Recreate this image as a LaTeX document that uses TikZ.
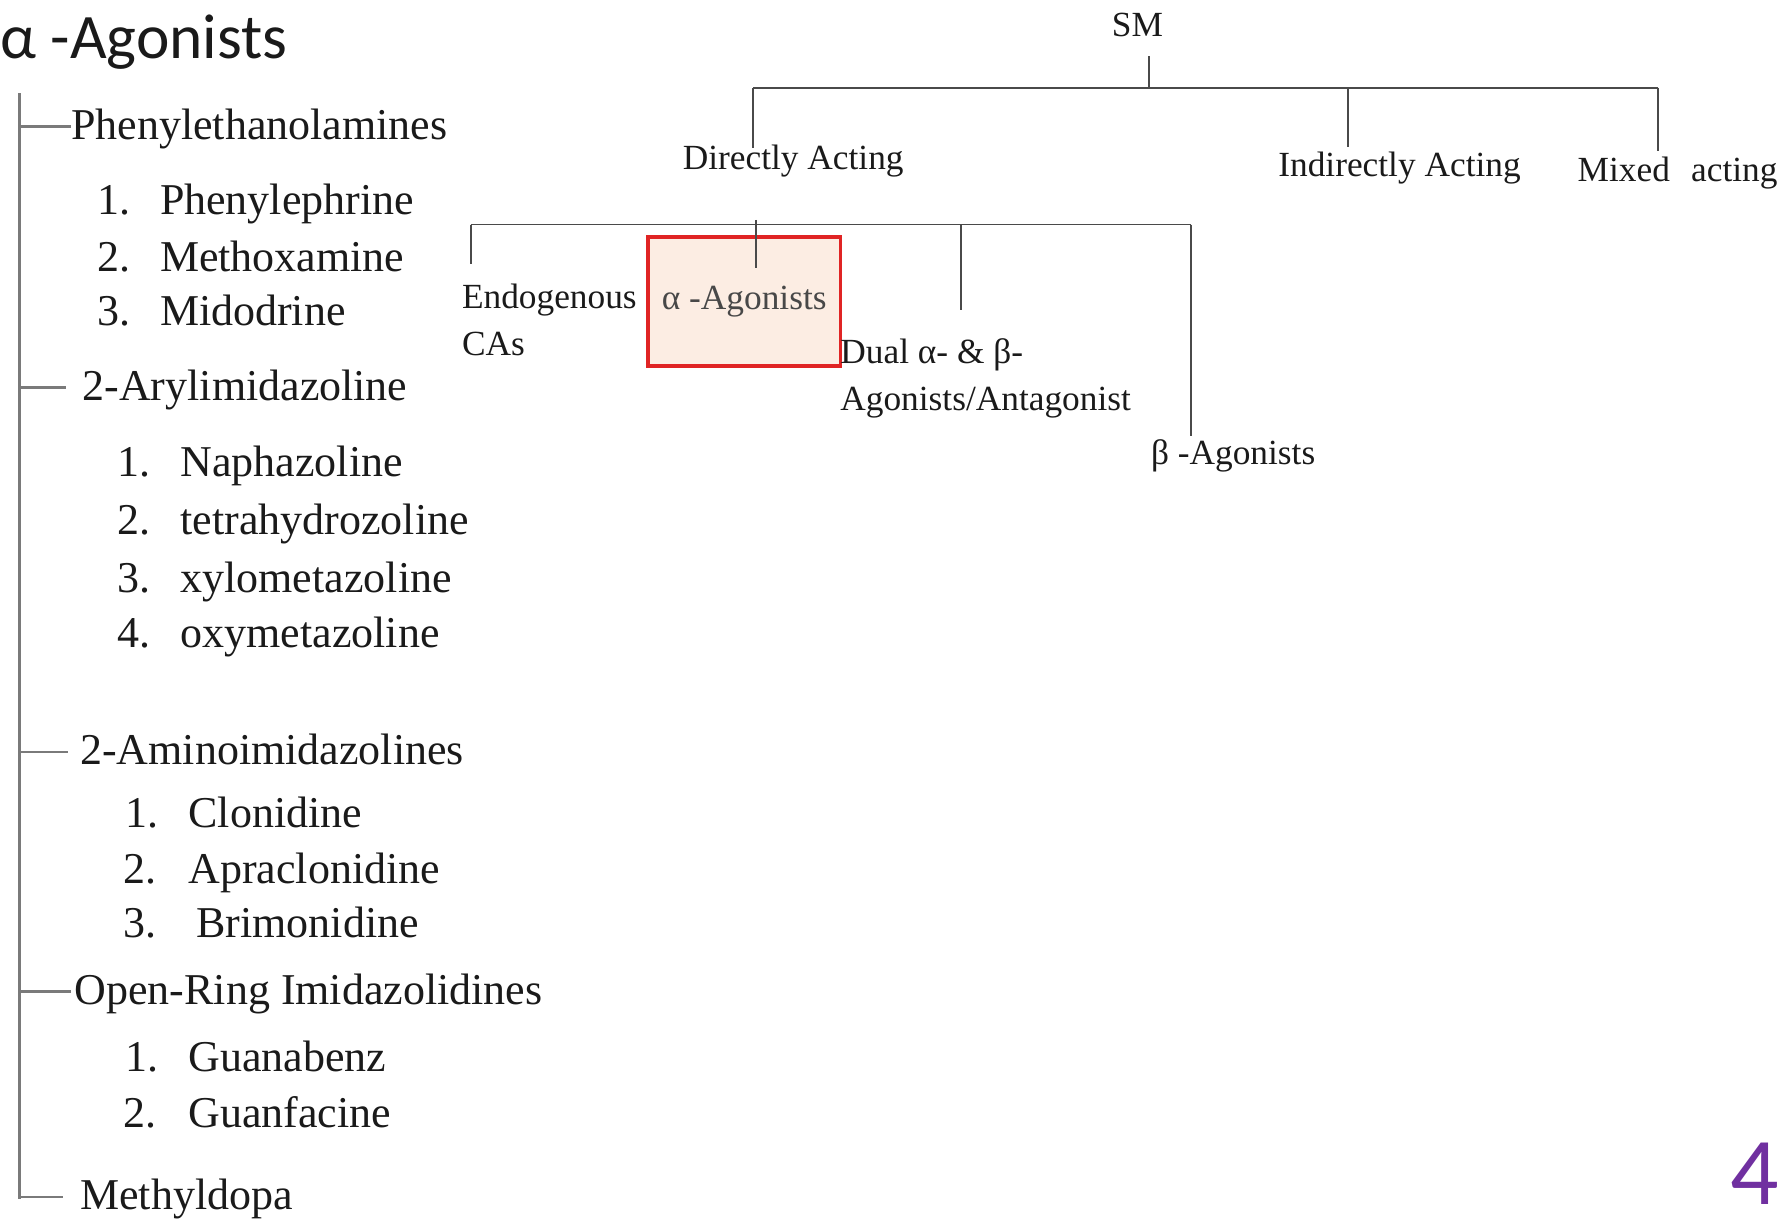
\documentclass[tikz,border=0pt]{standalone}
\usepackage{fontspec}
\setmainfont{Liberation Serif}
\newfontfamily\calfont{Carlito}
\definecolor{txt}{HTML}{1A1A1A}
\definecolor{linec}{HTML}{4A4A4A}
\definecolor{trunkc}{HTML}{7A7A7A}
\definecolor{boxred}{HTML}{E02424}
\definecolor{boxfill}{HTML}{FCEDE3}
\definecolor{pagenum}{HTML}{7030A0}
\begin{document}
\begin{tikzpicture}[x=0.5pt,y=-0.5pt,
  every node/.style={inner sep=0pt, text=txt},
  ttl/.style={font=\calfont\fontsize{27.8}{30}\selectfont, anchor=base west},
  catg/.style={font=\fontsize{19.3}{22}\selectfont, anchor=west, text height=1.12em, text depth=0pt},
  numb/.style={font=\fontsize{19.3}{22}\selectfont, anchor=base west},
  itm/.style={font=\fontsize{19.3}{22}\selectfont, anchor=base west},
  lbl/.style={font=\fontsize{15.5}{20}\selectfont, anchor=base, text height=0.7em, text depth=0.25em},
  mlbl/.style={font=\fontsize{15.5}{20.5}\selectfont, anchor=north west, align=left, inner xsep=0pt},
  trunk/.style={draw=trunkc, line width=1pt},
  tline/.style={draw=linec, line width=0.8pt},
]
\path[use as bounding box] (0,0) rectangle (1568,1069);

% title
\node[ttl] (title) at (0,51) {α -Agonists};

% left list
\coordinate (trtop) at (17,82);
\coordinate (trbot) at (17,1052);
\draw[trunk] (trtop) -- (trbot);

\node[catg, inner xsep=0pt] (ph) at (62,111) {Phenylethanolamines};
\node[numb] (n11) at (85,188) {1.};
\node[itm] (ph1) at (140,188) {Phenylephrine};
\node[numb] (n12) at (85,238) {2.};
\node[itm] (ph2) at (140,238) {Methoxamine};
\node[numb] (n13) at (85,286) {3.};
\node[itm] (ph3) at (140,286) {Midodrine};

\node[catg, inner xsep=7pt] (ar) at (58,340) {2-Arylimidazoline};
\node[numb] (n21) at (103,418) {1.};
\node[itm] (ar1) at (158,418) {Naphazoline};
\node[numb] (n22) at (103,469) {2.};
\node[itm] (ar2) at (158,469) {tetrahydrozoline};
\node[numb] (n23) at (103,520) {3.};
\node[itm] (ar3) at (158,520) {xylometazoline};
\node[numb] (n24) at (103,568) {4.};
\node[itm] (ar4) at (158,568) {oxymetazoline};

\node[catg, inner xsep=5pt] (am) at (60,660) {2-Aminoimidazolines};
\node[numb] (n31) at (110,726) {1.};
\node[itm] (am1) at (165,726) {Clonidine};
\node[numb] (n32) at (108,775) {2.};
\node[itm] (am2) at (165,775) {Apraclonidine};
\node[numb] (n33) at (108,823) {3.};
\node[itm] (am3) at (172,823) {Brimonidine};

\node[catg, inner xsep=1.5pt] (op) at (62,870) {Open-Ring Imidazolidines};
\node[numb] (n41) at (110,940) {1.};
\node[itm] (op1) at (165,940) {Guanabenz};
\node[numb] (n42) at (108,989) {2.};
\node[itm] (op2) at (165,989) {Guanfacine};

\node[catg, inner xsep=7.5pt] (me) at (55,1050) {Methyldopa};

\foreach \n in {ph,ar,am,op,me}
  \draw[trunk] (trtop |- \n.west) -- (\n.west);

% right tree
\node[lbl, inner ysep=6pt] (sm) at (998,32) {SM};
\node[lbl, inner ysep=2.2pt] (da) at (696,149) {Directly Acting};
\node[lbl, inner ysep=5.6pt] (ia) at (1228,155) {Indirectly Acting};
\node[lbl, inner ysep=6pt] (mx) at (1472,159) {Mixed\hspace{0.6em}acting};

\coordinate (b1l) at (661,77);
\coordinate (b1s) at (1008,77);
\coordinate (b1i) at (1183,77);
\coordinate (b1r) at (1455,77);
\draw[tline] (b1l) -- (b1r);
\draw[tline] (sm.south -| b1s) -- (b1s);
\draw[tline] (b1l) -- (b1l |- da.north);
\draw[tline] (b1i) -- (b1i |- ia.north);
\draw[tline] (b1r) -- (b1r |- mx.north);

\node[draw=boxred, line width=1.5pt, fill=boxfill, minimum width=84.5pt, minimum height=56.5pt,
  font=\fontsize{15.5}{20}\selectfont, text=txt!80] (aa) at (653,264.5) {\raisebox{-3.5pt}{α -Agonists}};

\node[mlbl, inner ysep=8.5pt] (en) at (405,232) {Endogenous\\CAs};
\node[mlbl, inner ysep=12.5pt] (du) at (737,272) {Dual α- \& β-\\Agonists/Antagonist};
\node[lbl, inner ysep=5.6pt] (be) at (1082,408) {β -Agonists};

\coordinate (b2l) at (413,197);
\coordinate (b2d) at (843,197);
\coordinate (b2r) at (1045,197);
\coordinate (ajtop) at (663,193);
\coordinate (ajbot) at (663,235);
\draw[tline] (b2l) -- (b2r);
\draw[tline] (b2l) -- (b2l |- en.north);
\draw[tline] (b2d) -- (b2d |- du.north);
\draw[tline] (b2r) -- (b2r |- be.north);
\draw[tline] (ajtop) -- (ajbot);

% page number
\node[font=\calfont\fontsize{42}{46}\selectfont, text=pagenum, anchor=base] (pg) at (1540,1057) {4};
\end{tikzpicture}
\end{document}
